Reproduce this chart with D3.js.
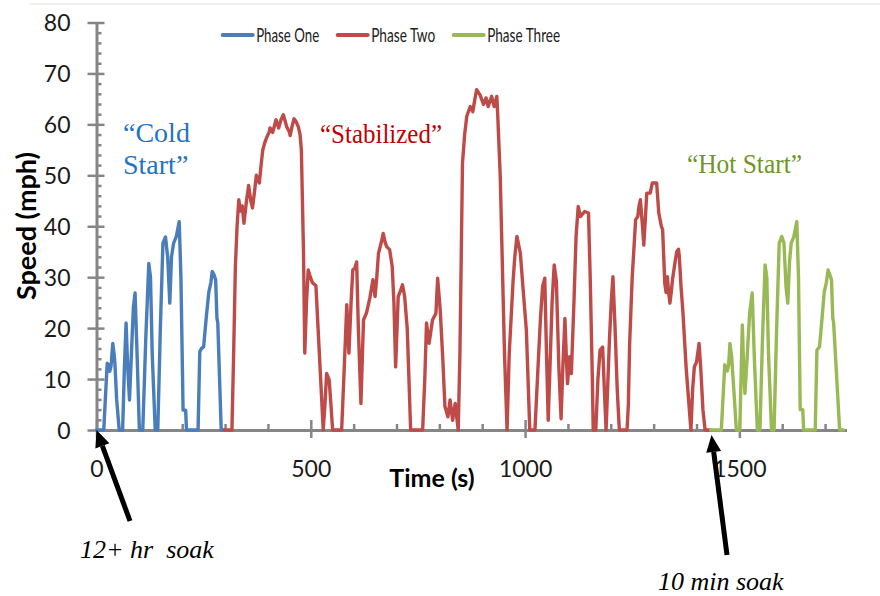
<!DOCTYPE html>
<html>
<head>
<meta charset="utf-8">
<script src="https://cdn.jsdelivr.net/npm/d3@7"></script>
<style>
    body { margin: 0; background: #fff; }
    svg { display: block; }
    .axis path, .axis line { stroke: #868686; }
    .axis text { font-family: Lato, "Open Sans", sans-serif; fill: #1a1a1a; }
</style>
</head>
<body>
<svg id="chart" width="880" height="596"></svg>
<script>
// series names for the legend
var seriesNames = ["Phase One", "Phase Two", "Phase Three"];

// [time (s), speed (mph)]
var phaseOne = [
    [0,0],[17,0],[20,5],[25,13.1],[28,12.8],[31,11.5],[34,12.6],[38,17],[41,15],[43,13],[47,6],[53,0],
    [61,0],[65,12],[69,21],[73,12],[77,5.9],[81,14],[86,24],[90,26.9],[95,14],[100,0],
    [108,0],[115,18],[122,32.7],[126,30],[130,15],[137,0],
    [143,0],[149,20],[155,36.7],[161,37.9],[166,34],[171,24.9],[175,34],[180,36.7],[186,37.9],[193,40.9],
    [197,30],[202,3.9],[208,3.9],[210,0],
    [237,0],[241,15.4],[245,16],[250,16.3],[256,22],[262,27],[267,29],[270,31.1],[274,30.5],[278,29.5],
    [281,22],[283,21],[291,0],[298,0]
];

var phaseTwo = [
    [298,0],[316,0],[320,15],[324,32],[328,40],[332,45.2],[336,43],[340,44],[344,40.6],[350,45],[355,48],
    [360,45],[364,43.6],[369,47],[373,50],[377,49],[380,48.5],[384,52],[388,55],[393,56.5],[398,57.6],
    [403,58.5],[405,59.3],[411,58.4],[419,60.9],[425,59.3],[431,61],[436,61.9],[444,59.5],[450,58.5],
    [452,57.8],[456,59.5],[461,61.1],[466,60.5],[471,59.5],[475,58],[478,55],[483,35],[486,15.1],
    [490,25],[494,31.4],[499,30],[504,28.9],[512,28.3],[520,15],[529,0],[533,5],[537,11.1],[543,9.8],
    [547,5],[551,0],[572,0],[577,10],[584,24.6],[589,15.1],[594,25],[598,31.4],[603,31.8],[607,33],
    [611,20],[617,5.2],[623,21.6],[630,23],[638,26],[645,29.5],[650,26.2],[654,30],[658,34.7],[665,37],
    [669,38.6],[673,37],[677,36],[684,35.4],[690,32.1],[694,25],[698,12.4],[704,26.2],[710,27.5],
    [714,28.5],[719,26.2],[725,20],[727,15.1],[733,0],
    [761,0],[766,10],[770,21],[776,17],[784,21.6],[792,22.9],[796,29.8],[802,23.6],[808,14],[813,4.6],
    [820,2.6],[825,5.9],[831,1.9],[837,5.2],[844,0],[848,15],[854,52.4],[859,58],[864,61.6],[872,63.5],
    [878,62.5],[883,65],[887,66.8],[895,65.8],[903,63.9],[909,65.2],[914,63.5],[922,65.5],[928,63.5],
    [934,65.5],[936,62.2],[942,50],[946,36],[952,15],[958,0],[963,15],[972,29.2],[976,34],[981,38],
    [989,34.7],[996,27],[1003,19.6],[1011,0],
    [1023,0],[1030,12],[1036,22],[1041,28.2],[1046,29.8],[1050,15],[1054,1.9],[1058,12],[1063,25],
    [1068,32.4],[1073,29.2],[1079,12],[1084,2.2],[1088,12],[1093,21.9],[1096,15],[1099,9.1],[1104,14.4],
    [1108,11.1],[1114,25],[1119,38],[1124,43.9],[1129,41.9],[1139,42.9],[1148,42.6],[1152,30],[1157,10],
    [1159,0],[1165,0],[1170,10],[1175,15.7],[1181,16.3],[1185,8],[1189,0],[1197,18],[1201,25],[1205,30.1],
    [1210,20],[1215,8],[1220,0],[1238,0],[1241,5],[1244,17],[1250,30],[1258,41.3],[1263,41.9],[1266,44],
    [1269,45.2],[1274,40],[1277,36.3],[1281,42],[1284,46.5],[1292,46.5],[1297,48.5],[1307,48.5],
    [1312,42.6],[1318,40],[1321,39.3],[1324,33],[1326,28.8],[1329,27],[1332,30.1],[1335,27],[1338,24.9],
    [1341,27],[1344,29.5],[1350,33],[1354,35],[1358,35.5],[1360,34],[1364,28],[1368,23.6],[1376,12],
    [1387,0],[1391,8],[1395,12.4],[1400,13.3],[1406,17],[1410,12],[1415,4],[1420,0],[1432,0]
];

var phaseThree = [
    [1433,0],[1458,0],[1461,5],[1466,12.8],[1469,12.3],[1472,11.6],[1475,12.8],[1478,17],[1482,14.4],
    [1487,8],[1493,0],[1501,0],[1507,20.6],[1510,12],[1513,7.2],[1518,14],[1524,23],[1530,26.9],
    [1535,14],[1542,0],[1548,0],[1554,18],[1560,32.4],[1564,30],[1568,15],[1575,0],[1581,0],[1587,20],
    [1593,36.7],[1599,38],[1604,36.7],[1609,28],[1613,24.9],[1617,33],[1621,36.7],[1627,37.9],
    [1634,40.9],[1638,30],[1642,4],[1648,4],[1650,0],[1677,0],[1681,15.7],[1687,16.3],[1693,22],
    [1698,27],[1703,29],[1707,31.4],[1711,30.5],[1715,29.5],[1718,22],[1720,21],[1734,0],[1743,0]
];

var speedTicks = [0, 10, 20, 30, 40, 50, 60, 70, 80];
var timeTicks = [0, 500, 1000, 1500];

var colors = ["#4A7EBB", "#BE4B48", "#98B954"];

var svg = d3.select("#chart");

var x = d3.scaleLinear().domain([0, 1750]).range([96.5, 846.5]);
var y = d3.scaleLinear().domain([0, 80]).range([430, 22.5]);

// faint slide edge at the top
svg.append("line")
    .attr("x1", 30).attr("x2", 880).attr("y1", 4).attr("y2", 4)
    .style("stroke", "#ececec").style("stroke-width", 1.5);

// ---- axes ----
var gy = svg.append("g").attr("class", "axis")
    .attr("transform", "translate(" + x(0) + ",0)")
    .call(d3.axisLeft(y).tickValues(speedTicks).tickSize(9).tickSizeOuter(0).tickPadding(17)
        .tickFormat(d3.format("d")));
gy.selectAll(".tick line").attr("x1", 8).style("stroke-width", 2.5);
gy.selectAll(".tick text").style("font-size", "23px").attr("dy", "0.36em");
gy.select(".domain").style("stroke-width", 3);

var gyMinor = svg.append("g").attr("class", "axis")
    .attr("transform", "translate(" + x(0) + ",0)")
    .call(d3.axisRight(y).tickValues(d3.range(0, 81, 2).filter(function(d){ return d % 10; }))
        .tickSize(5).tickFormat(""));
gyMinor.select(".domain").remove();
gyMinor.selectAll(".tick line").style("stroke-width", 2.5);

var gx = svg.append("g").attr("class", "axis")
    .attr("transform", "translate(0," + y(0) + ")")
    .call(d3.axisBottom(x).tickValues(timeTicks).tickSize(8).tickSizeOuter(0)
        .tickFormat(d3.format("d")));
gx.selectAll(".tick line").attr("y1", -10).style("stroke-width", 2.5);
gx.selectAll(".tick text").style("font-size", "23px").attr("y", 47).attr("dy", 0);
gx.select(".domain").style("stroke-width", 3);

var gxMinor = svg.append("g").attr("class", "axis")
    .attr("transform", "translate(0," + y(0) + ")")
    .call(d3.axisTop(x).tickValues(d3.range(100, 1750, 100).filter(function(d){ return d % 500; }))
        .tickSize(6).tickFormat(""));
gxMinor.select(".domain").remove();
gxMinor.selectAll(".tick line").style("stroke-width", 2.5);

// axis titles
svg.append("text")
    .attr("x", 432).attr("y", 487)
    .attr("text-anchor", "middle")
    .style("font-family", "Lato, sans-serif").style("font-weight", "bold").style("font-size", "25px")
    .text("Time (s)");

svg.append("text")
    .attr("transform", "translate(36,226) rotate(-90)")
    .attr("text-anchor", "middle")
    .style("font-family", "Lato, sans-serif").style("font-weight", "bold").style("font-size", "27px")
    .text("Speed (mph)");

// ---- data lines ----
var line = d3.line()
    .x(function(d){ return x(d[0]); })
    .y(function(d){ return y(d[1]); });

[phaseOne, phaseTwo, phaseThree].forEach(function(s, i){
    svg.append("path")
        .datum(s)
        .attr("d", line)
        .style("fill", "none")
        .style("stroke", colors[i])
        .style("stroke-width", 3.4)
        .style("stroke-linejoin", "round")
        .style("stroke-linecap", "round");
});

// ---- legend ----
var legendWidths = [63, 64, 73];
var lx = 222.7;
seriesNames.forEach(function(name, i){
    svg.append("line")
        .attr("x1", lx).attr("x2", lx + 30).attr("y1", 35).attr("y2", 35)
        .style("stroke", colors[i]).style("stroke-width", 4).style("stroke-linecap", "round");
    svg.append("text")
        .attr("x", lx + 33.5).attr("y", 41.5)
        .attr("textLength", legendWidths[i]).attr("lengthAdjust", "spacingAndGlyphs")
        .style("font-family", "Lato, sans-serif").style("font-size", "19px").style("fill", "#222")
        .text(name);
    lx += 30 + 3.5 + legendWidths[i] + 18.5;
});

// ---- phase labels ----
function serifLabel(tx, ty, str, color, len){
    var t = svg.append("text")
        .attr("x", tx).attr("y", ty)
        .style("font-family", "'Liberation Serif', 'Times New Roman', serif")
        .style("font-size", "28px").style("fill", color)
        .text(str);
    if(len){ t.attr("textLength", len).attr("lengthAdjust", "spacingAndGlyphs"); }
    return t;
}
serifLabel(123, 142, "\u201CCold", "#1F73C1");
serifLabel(123, 173.5, "Start\u201D", "#1F73C1");
serifLabel(320, 143, "\u201CStabilized\u201D", "#C00000", 122);
serifLabel(687, 173, "\u201CHot Start\u201D", "#6F9527", 115);

// ---- soak arrows ----
function arrow(x1, y1, x2, y2){
    var a = Math.atan2(y2 - y1, x2 - x1);
    var headLen = 17, headHalf = 7.5;
    var bx = x2 - headLen * Math.cos(a), by = y2 - headLen * Math.sin(a);
    svg.append("line")
        .attr("x1", x1).attr("y1", y1).attr("x2", bx).attr("y2", by)
        .style("stroke", "#000").style("stroke-width", 5);
    var px = -Math.sin(a), py = Math.cos(a);
    svg.append("path")
        .attr("d", "M" + x2 + "," + y2 +
            "L" + (bx + px * headHalf) + "," + (by + py * headHalf) +
            "L" + (bx - px * headHalf) + "," + (by - py * headHalf) + "Z")
        .style("fill", "#000");
}
arrow(130, 521, x(0), y(0));
arrow(727, 555, 711.5, 435);

function soakLabel(tx, ty, str){
    svg.append("text")
        .attr("x", tx).attr("y", ty)
        .style("font-family", "'Liberation Serif', 'Times New Roman', serif")
        .style("font-style", "italic").style("font-size", "26px").style("fill", "#000")
        .text(str);
}
soakLabel(80, 558, "12+ hr\u00A0 soak");
soakLabel(658, 590, "10 min soak");
</script>
</body>
</html>
